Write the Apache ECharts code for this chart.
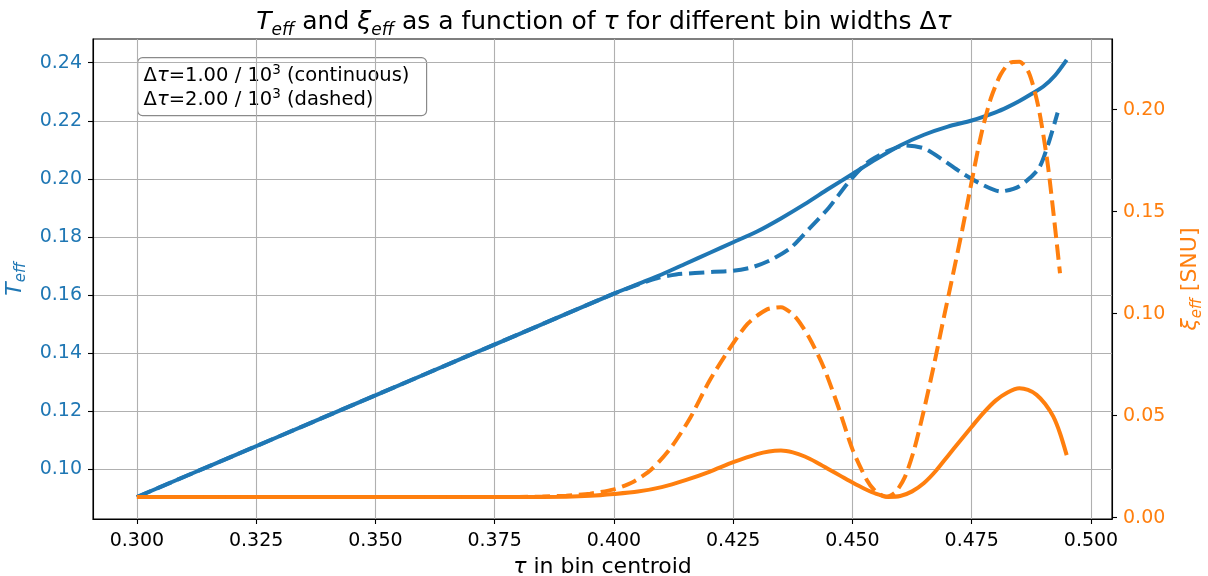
<!DOCTYPE html>
<html>
<head>
<meta charset="utf-8">
<script src="https://cdn.jsdelivr.net/npm/echarts@6/dist/echarts.min.js"></script>
<style>
  html, body { margin: 0; padding: 0; background: #fff; }
  #chart { width: 1208px; height: 576px; }
</style>
</head>
<body>
<div id="chart"></div>
<script>
// ---- data ----
const tauTicks = [0.300, 0.325, 0.350, 0.375, 0.400, 0.425, 0.450, 0.475, 0.500];
const teffTicks = [0.10, 0.12, 0.14, 0.16, 0.18, 0.20, 0.22, 0.24];
const xiTicks = [0.00, 0.05, 0.10, 0.15, 0.20];

// T_eff, bin width 1.00e-3 (continuous)
const teffCont = [
  [0.300, 0.0905], [0.320, 0.1045], [0.340, 0.1185], [0.360, 0.1325], [0.380, 0.1465],
  [0.400, 0.1605], [0.405, 0.1638], [0.410, 0.1671], [0.415, 0.1708], [0.420, 0.1745],
  [0.425, 0.1782], [0.430, 0.1819], [0.435, 0.1864], [0.440, 0.1913], [0.445, 0.1966],
  [0.450, 0.2017], [0.455, 0.2068], [0.460, 0.2115], [0.465, 0.2152], [0.470, 0.2180],
  [0.475, 0.2201], [0.480, 0.2229], [0.4825, 0.2247], [0.485, 0.2268], [0.4875, 0.2292],
  [0.490, 0.2318], [0.4925, 0.2357], [0.4949, 0.2410]
];
// T_eff, bin width 2.00e-3 (dashed)
const teffDash = [
  [0.300, 0.0905], [0.320, 0.1045], [0.340, 0.1185], [0.360, 0.1325], [0.380, 0.1465],
  [0.400, 0.1605], [0.405, 0.1636], [0.409, 0.1658], [0.413, 0.1671], [0.417, 0.1676],
  [0.421, 0.1680], [0.425, 0.1684], [0.429, 0.1696], [0.433, 0.1722], [0.437, 0.1762],
  [0.441, 0.1830], [0.445, 0.1900], [0.449, 0.1985], [0.453, 0.2055], [0.457, 0.2093],
  [0.461, 0.2115], [0.465, 0.2105], [0.469, 0.2065], [0.473, 0.2020], [0.477, 0.1982],
  [0.481, 0.1957], [0.485, 0.1975], [0.489, 0.2035], [0.491, 0.2118], [0.493, 0.2228]
];
// xi_eff [SNU], bin width 1.00e-3 (continuous)
const xiCont = [
  [0.300, 0.0101], [0.340, 0.0101], [0.380, 0.0101], [0.390, 0.0103], [0.395, 0.0107],
  [0.400, 0.0116], [0.405, 0.0128], [0.410, 0.0150], [0.415, 0.0184], [0.420, 0.0225],
  [0.425, 0.0272], [0.430, 0.0312], [0.4325, 0.0325], [0.435, 0.0329], [0.4375, 0.0320],
  [0.440, 0.0300], [0.4425, 0.0271], [0.445, 0.0238], [0.4475, 0.0205], [0.450, 0.0172],
  [0.4525, 0.0142], [0.455, 0.0117], [0.4575, 0.0102], [0.460, 0.0106], [0.4625, 0.0129],
  [0.465, 0.0170], [0.4675, 0.0230], [0.470, 0.0303], [0.4725, 0.0375], [0.475, 0.0446],
  [0.4775, 0.0515], [0.480, 0.0574], [0.4825, 0.0614], [0.485, 0.0634], [0.4868, 0.0626],
  [0.4886, 0.0602], [0.4904, 0.0557], [0.4921, 0.0495], [0.4935, 0.0414], [0.4949, 0.0307]
];
// xi_eff [SNU], bin width 2.00e-3 (dashed)
const xiDash = [
  [0.300, 0.0101], [0.340, 0.0101], [0.380, 0.0102], [0.385, 0.0104], [0.390, 0.0108],
  [0.395, 0.0118], [0.400, 0.0139], [0.404, 0.0175], [0.408, 0.0240], [0.412, 0.0345],
  [0.416, 0.0490], [0.420, 0.0670], [0.424, 0.0820], [0.428, 0.0950], [0.432, 0.1020],
  [0.435, 0.1032], [0.438, 0.0985], [0.441, 0.0880], [0.444, 0.0735], [0.447, 0.0545],
  [0.450, 0.0335], [0.453, 0.0185], [0.455, 0.0125], [0.457, 0.0103], [0.459, 0.0125],
  [0.461, 0.0200], [0.463, 0.0340], [0.465, 0.0530], [0.467, 0.0740], [0.469, 0.0965],
  [0.471, 0.1185], [0.473, 0.1410], [0.475, 0.1650], [0.477, 0.1880], [0.479, 0.2055],
  [0.481, 0.2170], [0.483, 0.2230], [0.485, 0.2235], [0.487, 0.2180], [0.489, 0.2010],
  [0.491, 0.1720], [0.4935, 0.1198]
];

// ---- styling ----
const BLUE = '#1f77b4';
const ORANGE = '#ff7f0e';
const FONT = 'DejaVu Sans';
const LW = 4;
const DASH = [15.4, 6.7];

const chart = echarts.init(document.getElementById('chart'), null, { renderer: 'canvas' });

const option = {
  backgroundColor: '#fff',
  animation: false,
  title: {
    text: '{i|T}{s|eff} and {i|ξ}{s|eff} as a function of {i|τ} for different bin widths Δ{i|τ}',
    left: 'center',
    top: 0,
    textStyle: {
      fontFamily: FONT, fontSize: 25, fontWeight: 'normal', color: '#000', lineHeight: 34,
      rich: {
        i: { fontFamily: FONT, fontSize: 25, fontStyle: 'italic', color: '#000', lineHeight: 34 },
        s: { fontFamily: FONT, fontSize: 17, fontStyle: 'italic', color: '#000', verticalAlign: 'bottom', lineHeight: 17 }
      }
    }
  },
  grid: {
    left: 93, right: 96, top: 39, bottom: 57,
    show: true, borderColor: '#000', borderWidth: 1.1,
    outerBoundsMode: 'none'
  },
  xAxis: {
    type: 'value',
    min: 0.2908, max: 0.5044,
    axisLine: { show: true, onZero: false, lineStyle: { color: '#000', width: 1.1 } },
    axisTick: { show: true, length: 5, customValues: tauTicks, lineStyle: { color: '#000', width: 1.1 } },
    axisLabel: {
      customValues: tauTicks, formatter: v => v.toFixed(3),
      color: '#000', fontFamily: FONT, fontSize: 19, margin: 13
    },
    splitLine: { show: true, lineStyle: { color: '#b0b0b0', width: 1.1 } },
    name: '{i|τ} in bin centroid',
    nameLocation: 'middle',
    nameGap: 34,
    nameTextStyle: {
      fontFamily: FONT, fontSize: 22, color: '#000',
      rich: { i: { fontFamily: FONT, fontSize: 22, fontStyle: 'italic', color: '#000' } }
    }
  },
  yAxis: [
    {
      type: 'value',
      position: 'left',
      min: 0.08292, max: 0.24816,
      axisLine: { show: true, lineStyle: { color: '#000', width: 1.1 } },
      axisTick: { show: true, length: 5, customValues: teffTicks, lineStyle: { color: '#000', width: 1.1 } },
      axisLabel: {
        customValues: teffTicks, formatter: v => v.toFixed(2),
        color: BLUE, fontFamily: FONT, fontSize: 19, margin: 11
      },
      splitLine: { show: true, lineStyle: { color: '#b0b0b0', width: 1.1 } },
      name: '{i|T}{s|eff}',
      nameLocation: 'middle',
      nameRotate: 90,
      nameGap: 52,
      nameTextStyle: {
        fontFamily: FONT, fontSize: 22, color: BLUE, lineHeight: 28,
        rich: {
          i: { fontFamily: FONT, fontSize: 22, fontStyle: 'italic', color: BLUE, lineHeight: 28 },
          s: { fontFamily: FONT, fontSize: 15, fontStyle: 'italic', color: BLUE, verticalAlign: 'bottom', lineHeight: 15 }
        }
      }
    },
    {
      type: 'value',
      position: 'right',
      min: -0.00064, max: 0.23466,
      axisLine: { show: true, onZero: false, lineStyle: { color: '#000', width: 1.1 } },
      axisTick: { show: true, length: 5, customValues: xiTicks, lineStyle: { color: '#000', width: 1.1 } },
      axisLabel: {
        customValues: xiTicks, formatter: v => v.toFixed(2),
        color: ORANGE, fontFamily: FONT, fontSize: 19, margin: 11
      },
      splitLine: { show: false },
      name: '{i|ξ}{s|eff} [SNU]',
      nameLocation: 'middle',
      nameRotate: 90,
      nameGap: 55,
      nameTextStyle: {
        fontFamily: FONT, fontSize: 22, color: ORANGE, lineHeight: 28,
        rich: {
          i: { fontFamily: FONT, fontSize: 22, fontStyle: 'italic', color: ORANGE, lineHeight: 28 },
          s: { fontFamily: FONT, fontSize: 15, fontStyle: 'italic', color: ORANGE, verticalAlign: 'bottom', lineHeight: 15 }
        }
      }
    }
  ],
  series: [
    { type: 'line', name: 'T cont', data: teffCont, yAxisIndex: 0, showSymbol: false, symbol: 'none', smooth: 0.25,
      lineStyle: { color: BLUE, width: LW, cap: 'butt' } },
    { type: 'line', name: 'T dash', data: teffDash, yAxisIndex: 0, showSymbol: false, symbol: 'none', smooth: 0.25,
      lineStyle: { color: BLUE, width: LW, type: DASH, cap: 'butt' } },
    { type: 'line', name: 'xi cont', data: xiCont, yAxisIndex: 1, showSymbol: false, symbol: 'none', smooth: 0.25,
      lineStyle: { color: ORANGE, width: LW, cap: 'butt' } },
    { type: 'line', name: 'xi dash', data: xiDash, yAxisIndex: 1, showSymbol: false, symbol: 'none', smooth: 0.25,
      lineStyle: { color: ORANGE, width: LW, type: DASH, cap: 'butt' } }
  ],
  graphic: [
    {
      type: 'group', left: 137, top: 57, z: 100,
      children: [
        { type: 'rect', shape: { x: 0, y: 0, width: 289, height: 58, r: 5 },
          style: { fill: 'rgba(255,255,255,0.8)', stroke: '#8a8a8a', lineWidth: 1.2 } },
        { type: 'text', x: 6, y: 6,
          style: {
            text: 'Δ{i|τ}=1.00 / 10{p|3} (continuous)\nΔ{i|τ}=2.00 / 10{p|3} (dashed)',
            fontFamily: FONT, fontSize: 19.5, fill: '#000', lineHeight: 24.3,
            rich: {
              i: { fontFamily: FONT, fontSize: 19.5, fontStyle: 'italic', fill: '#000', lineHeight: 24.3 },
              p: { fontFamily: FONT, fontSize: 13.5, fill: '#000', verticalAlign: 'top', lineHeight: 13.5 }
            }
          } }
      ]
    }
  ]
};
chart.setOption(option);
</script>
</body>
</html>
